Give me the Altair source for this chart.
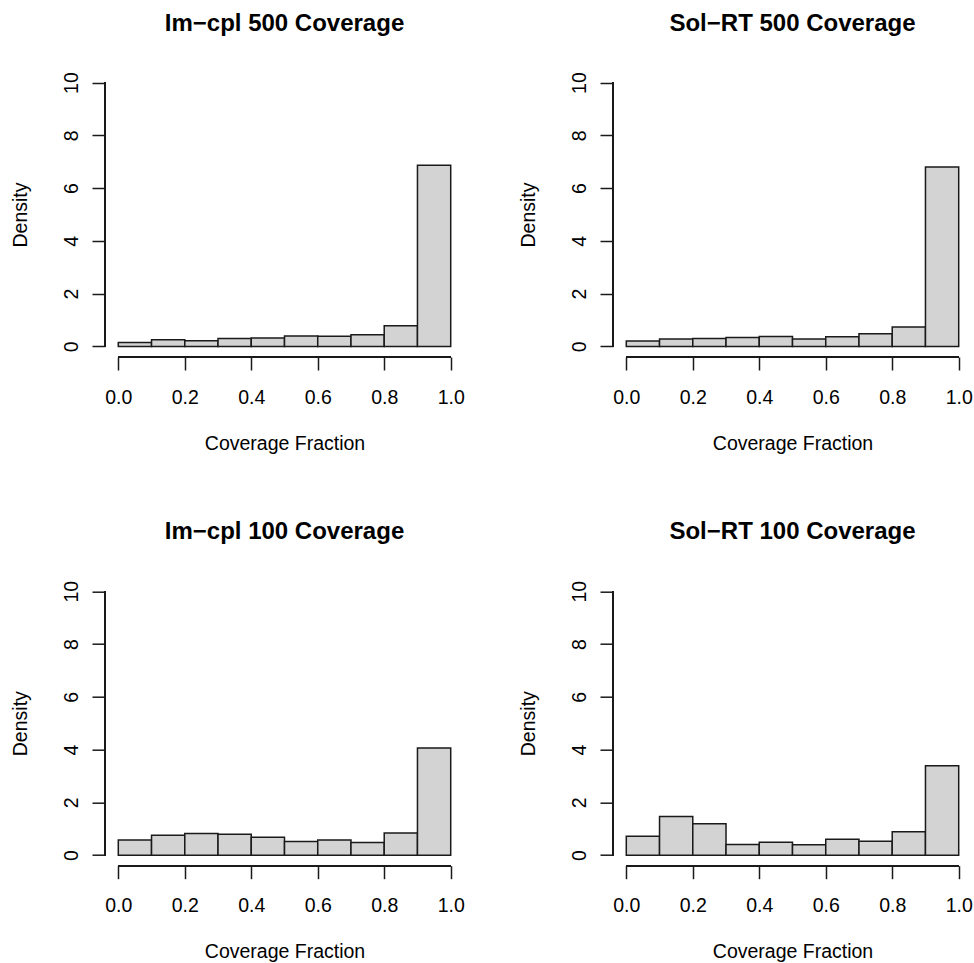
import altair as alt
import pandas as pd

bin_start = [0.0, 0.1, 0.2, 0.3, 0.4, 0.5, 0.6, 0.7, 0.8, 0.9]
bin_end = [0.1, 0.2, 0.3, 0.4, 0.5, 0.6, 0.7, 0.8, 0.9, 1.0]

titles = ["Im−cpl 500 Coverage", "Sol−RT 500 Coverage",
          "Im−cpl 100 Coverage", "Sol−RT 100 Coverage"]
imcpl_500 = [0.15, 0.25, 0.22, 0.30, 0.32, 0.40, 0.39, 0.44, 0.78, 6.87]
solrt_500 = [0.21, 0.28, 0.30, 0.34, 0.38, 0.28, 0.37, 0.48, 0.74, 6.80]
imcpl_100 = [0.57, 0.75, 0.82, 0.79, 0.68, 0.52, 0.57, 0.48, 0.84, 4.06]
solrt_100 = [0.72, 1.46, 1.19, 0.40, 0.49, 0.39, 0.60, 0.53, 0.89, 3.39]

x_ticks = [0.0, 0.2, 0.4, 0.6, 0.8, 1.0]
y_ticks = [0, 2, 4, 6, 8, 10]

FONT = "Liberation Sans"
W, H = 359, 285


def panel(title, dens):
    df = pd.DataFrame({"start": bin_start, "end": bin_end, "density": dens})
    xs = alt.Scale(domain=[-0.04, 1.04], nice=False, zero=False)
    ys = alt.Scale(domain=[-0.4, 10.4], nice=False, zero=False)
    bars = alt.Chart(df).mark_rect(
        fill="#D3D3D3", stroke="#1a1a1a", strokeWidth=1.5
    ).encode(
        x=alt.X("start:Q", scale=xs, title="Coverage Fraction",
                axis=alt.Axis(values=x_ticks, format=".1f", domain=False, grid=False,
                              tickSize=13, tickWidth=1.5, tickColor="#1a1a1a",
                              labelFont=FONT, labelFontSize=19.5, labelColor="#000",
                              labelPadding=18, labelBaseline="top",
                              titleFont=FONT, titleFontSize=19.5, titleFontWeight="normal",
                              titleColor="#000", titleBaseline="alphabetic",
                              titleX=W / 2, titleY=92)),
        x2="end:Q",
        y=alt.Y("density:Q", scale=ys, title="Density",
                axis=alt.Axis(values=y_ticks, domain=False, grid=False,
                              tickSize=13, tickWidth=1.5, tickColor="#1a1a1a",
                              labelFont=FONT, labelFontSize=19.5, labelColor="#000",
                              labelAngle=270, labelAlign="center",
                              labelBaseline="alphabetic", labelPadding=15,
                              titleFont=FONT, titleFontSize=19.5, titleFontWeight="normal",
                              titleColor="#000", titleAngle=270, titleAlign="center",
                              titleBaseline="alphabetic", titleX=-79, titleY=H / 2)),
        y2=alt.Y2(datum=0),
    )
    xline = alt.Chart(df).mark_rule(color="#1a1a1a", strokeWidth=1.5).encode(
        x=alt.datum(0.0, scale=xs), x2=alt.datum(1.0), y=alt.datum(-0.4, scale=ys)
    )
    yline = alt.Chart(df).mark_rule(color="#1a1a1a", strokeWidth=1.5).encode(
        y=alt.datum(0, scale=ys), y2=alt.datum(10), x=alt.datum(-0.04, scale=xs)
    )
    return alt.layer(bars, xline, yline).properties(
        width=W, height=H,
        title=alt.TitleParams(text=title, font=FONT, fontSize=24, fontWeight="bold",
                              color="#000", anchor="middle", frame="group",
                              baseline="alphabetic", offset=17),
    )


charts = [panel(t, d) for t, d in zip(titles, [imcpl_500, solrt_500, imcpl_100, solrt_100])]
chart = alt.concat(
    *charts, columns=2, spacing={"row": 223.7, "column": 149}, bounds="flush"
).properties(
    padding={"left": 10, "top": 11, "right": 0, "bottom": 0},
    background="white",
).configure_view(stroke=None)

chart.save("out.html", embed_options={"renderer": "svg", "actions": False})
